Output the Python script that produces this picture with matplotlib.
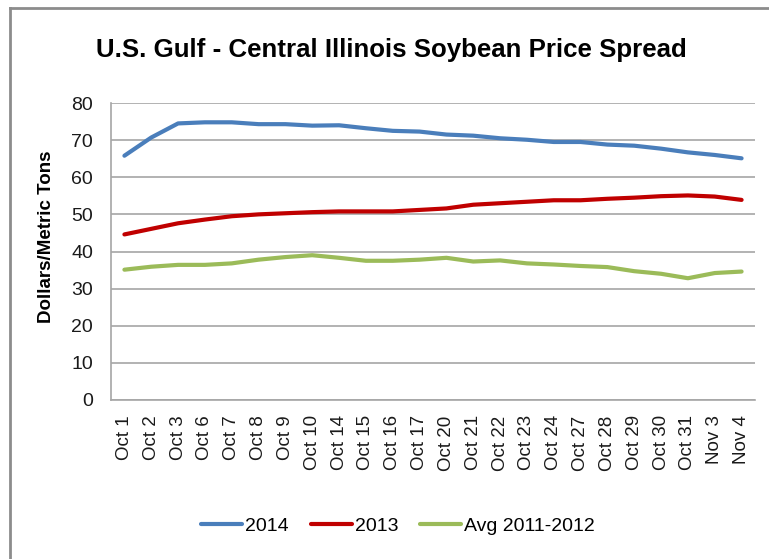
"""
U.S. Gulf - Central Illinois soybean price spread, Oct 1 - Nov 4:
2014 vs 2013 vs the 2011-2012 average, in Excel-chart styling.
"""
import numpy as np
import matplotlib
matplotlib.use("Agg")
import matplotlib.pyplot as plt
from matplotlib.lines import Line2D

DATES = ["Oct 1", "Oct 2", "Oct 3", "Oct 6", "Oct 7", "Oct 8", "Oct 9", "Oct 10",
         "Oct 14", "Oct 15", "Oct 16", "Oct 17", "Oct 20", "Oct 21", "Oct 22", "Oct 23",
         "Oct 24", "Oct 27", "Oct 28", "Oct 29", "Oct 30", "Oct 31", "Nov 3", "Nov 4"]

Y2014 = [65.8, 70.7, 74.5, 74.8, 74.8, 74.3, 74.3, 73.9, 74.0, 73.2, 72.5, 72.3,
         71.5, 71.2, 70.5, 70.1, 69.5, 69.5, 68.8, 68.5, 67.7, 66.7, 66.0, 65.1]
Y2013 = [44.6, 46.1, 47.6, 48.6, 49.5, 50.0, 50.3, 50.6, 50.8, 50.8, 50.8, 51.2,
         51.6, 52.6, 53.0, 53.4, 53.8, 53.8, 54.2, 54.5, 54.9, 55.1, 54.8, 53.9]
YAVG = [35.1, 35.9, 36.4, 36.4, 36.8, 37.8, 38.5, 39.0, 38.3, 37.5, 37.5, 37.8,
        38.3, 37.3, 37.6, 36.8, 36.5, 36.1, 35.8, 34.7, 34.0, 32.8, 34.2, 34.6]

# (label, values, color)
SERIES = [("2014", Y2014, "#4a7ebb"),
          ("2013", Y2013, "#c00000"),
          ("Avg 2011-2012", YAVG, "#9bbb59")]

SANS = ["Liberation Sans", "DejaVu Sans"]

W, H = 769, 559
fig = plt.figure(figsize=(W / 100, H / 100), dpi=100)

# chart border (only left + top fall inside the reference crop)
fig.add_artist(Line2D([10 / W, 10 / W], [0, 1 - 8 / H], color="#8c8c8c", lw=2.0,
                      transform=fig.transFigure))
fig.add_artist(Line2D([10 / W, 1], [1 - 8 / H, 1 - 8 / H], color="#8c8c8c", lw=2.0,
                      transform=fig.transFigure))

ax = fig.add_axes([111 / W, (H - 400) / H, (755 - 111) / W, (400 - 103) / H])
x = np.arange(len(DATES))
for label, vals, color in SERIES:
    ax.plot(x, vals, color=color, lw=3.0, label=label, solid_capstyle="round")

ax.set_xlim(-0.5, len(DATES) - 0.5)
ax.set_ylim(0, 80)
ax.set_yticks(range(0, 81, 10))
ax.grid(axis="y", color="#a6a6a6", lw=1.2)
ax.set_axisbelow(True)
for s in ["top", "right"]:
    ax.spines[s].set_visible(False)
for s in ["left", "bottom"]:
    ax.spines[s].set_color("#a6a6a6")
    ax.spines[s].set_linewidth(1.2)
ax.tick_params(axis="y", length=0, pad=13)
ax.tick_params(axis="x", length=0, pad=11)
ax.set_xticks(x)
ax.set_xticklabels(DATES, rotation=90, family=SANS, fontsize=13.5, color="#1a1a1a")
for t in ax.get_yticklabels():
    t.set_family(SANS)
    t.set_fontsize(14)
    t.set_color("#1a1a1a")
ax.set_ylabel("Dollars/Metric Tons", family=SANS, fontsize=13.5, fontweight="bold")
ax.yaxis.set_label_coords(-0.087, 0.549)

fig.text(391 / W, 1 - 50 / H, "U.S. Gulf - Central Illinois Soybean Price Spread",
         ha="center", va="center", family=SANS, fontsize=18.6, fontweight="bold")

fig.legend(loc="center", bbox_to_anchor=(398 / W, 1 - 526 / H), ncol=3, frameon=False,
           prop={"family": SANS, "size": 14}, handlelength=2.1, handletextpad=0.15,
           columnspacing=1.15)

plt.savefig("out.png", dpi=100)
